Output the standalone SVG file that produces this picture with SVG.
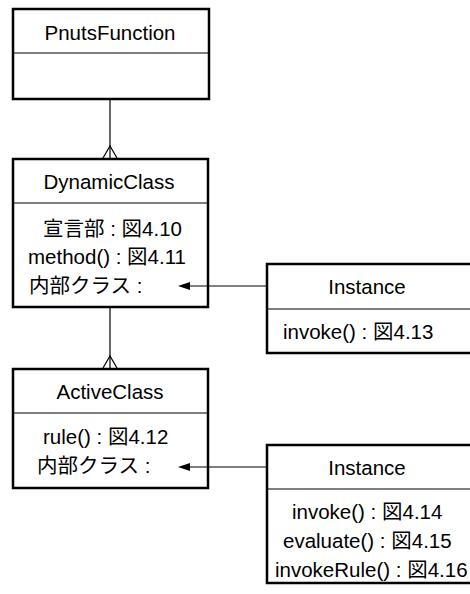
<svg xmlns="http://www.w3.org/2000/svg" width="470" height="594" viewBox="0 0 470 594">
<style>
.box{fill:#fff;stroke:#000;stroke-width:2.5}
.div{stroke:#000;stroke-width:1.2}
.t{font-family:"Liberation Sans","Noto Sans CJK JP",sans-serif;font-size:20.5px;fill:#000}
.c{text-anchor:middle}
.ln{stroke:#000;stroke-width:1.2;fill:none}
</style>
<g id="PnutsFunction">
<rect class="box" x="13" y="9" width="196" height="90"/>
<line class="div" x1="13" y1="53" x2="209" y2="53"/>
<text class="t c" x="110" y="40">PnutsFunction</text>
</g>
<g id="DynamicClass">
<rect class="box" x="13" y="159" width="195" height="148"/>
<line class="div" x1="13" y1="203" x2="208" y2="203"/>
<text class="t c" x="109" y="189">DynamicClass</text>
<text class="t" x="43" y="236">宣言部 : 図4.10</text>
<text class="t" x="28" y="264">method() : 図4.11</text>
<text class="t" x="29" y="293">内部クラス :</text>
</g>
<g id="Instance1">
<rect class="box" x="267" y="264" width="206" height="89"/>
<line class="div" x1="267" y1="309" x2="473" y2="309"/>
<text class="t c" x="367" y="294">Instance</text>
<text class="t" x="283" y="339">invoke() : 図4.13</text>
</g>
<g id="ActiveClass">
<rect class="box" x="13" y="369" width="195" height="119"/>
<line class="div" x1="13" y1="413" x2="208" y2="413"/>
<text class="t c" x="110" y="399">ActiveClass</text>
<text class="t" x="43" y="444">rule() : 図4.12</text>
<text class="t" x="37" y="473">内部クラス :</text>
</g>
<g id="Instance2">
<rect class="box" x="267" y="445" width="206" height="138"/>
<line class="div" x1="267" y1="489" x2="473" y2="489"/>
<text class="t c" x="367" y="475">Instance</text>
<text class="t" x="292" y="519">invoke() : 図4.14</text>
<text class="t" x="283" y="548">evaluate() : 図4.15</text>
<text class="t" x="275" y="577">invokeRule() : 図4.16</text>
</g>
<g id="connectors">
<line class="ln" x1="110" y1="100" x2="110" y2="158"/>
<path class="ln" d="M103,158 L110,146 L117,158"/>
<line class="ln" x1="110" y1="308" x2="110" y2="368"/>
<path class="ln" d="M103,368 L110,356 L117,368"/>
<line class="ln" x1="190" y1="286" x2="267" y2="286"/>
<path d="M178,286 L190,282 L190,290 Z" fill="#000"/>
<line class="ln" x1="190" y1="467" x2="267" y2="467"/>
<path d="M178,467 L190,463 L190,471 Z" fill="#000"/>
</g>
</svg>
